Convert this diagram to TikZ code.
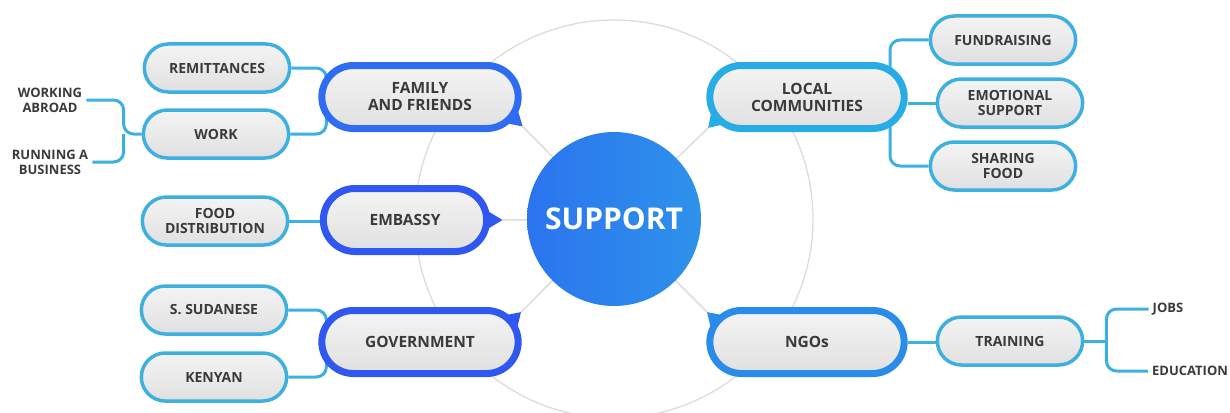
\documentclass[tikz,border=0pt]{standalone}
\usepackage{fontspec}
\setmainfont{Open Sans}
\usetikzlibrary{shapes.misc,calc,backgrounds}
\definecolor{famblue}{HTML}{2E6CF1}
\definecolor{embblue}{HTML}{3057F0}
\definecolor{locblue}{HTML}{28ACE6}
\definecolor{ngoblue}{HTML}{2B8BE8}
\definecolor{skyline}{HTML}{3DB0E0}
\definecolor{paper}{HTML}{F4F4F4}
\definecolor{inset}{HTML}{E0E0E0}
\definecolor{inkgray}{HTML}{3A3A3A}
\definecolor{ringgray}{HTML}{DCDCDC}
\definecolor{supleft}{HTML}{2B74EF}
\definecolor{supright}{HTML}{2E92EA}
\newcommand{\bubbletail}[5]{%
  \fill[#2] ($(#1.center)+(#3,0)+(#4-16:31)$) -- ($(#1.center)+(#3,0)+(#4:#5)$) coordinate (#1-tip)
    -- ($(#1.center)+(#3,0)+(#4+16:31)$) -- cycle;}

\begin{document}
\begin{tikzpicture}[x=1pt,y=-1pt]
  \tikzstyle{every node}=[text=inkgray, align=center]
  \tikzstyle{hub}=[rounded rectangle, top color=paper, middle color=paper, bottom color=inset, line width=7pt, minimum height=63pt, font=\fontsize{15.5}{17}\selectfont\bfseries]
  \tikzstyle{leafbox}=[rounded rectangle, top color=paper, middle color=paper, bottom color=inset, draw=skyline, line width=3.5pt, minimum width=152pt, minimum height=48pt, font=\fontsize{14}{15}\selectfont\bfseries]
  \tikzstyle{leaf}=[inner sep=4pt, font=\fontsize{13}{15}\selectfont\bfseries]
  \tikzstyle{branch}=[draw=skyline, line width=3pt, rounded corners=10pt]
  \tikzstyle{spoke}=[draw=ringgray, line width=1.5pt]
  \useasboundingbox (0,0) rectangle (1230,412);

  \node[circle, minimum size=174pt, left color=supleft, right color=supright, text=white, font=\fontsize{30}{32}\selectfont\bfseries] (sup) at (614,219) {SUPPORT};

  \node[hub, draw=famblue, minimum width=203pt] (fam) at (420,97) {FAMILY\\AND FRIENDS};
  \node[hub, draw=embblue, minimum width=170pt] (emb) at (405,220) {EMBASSY};
  \node[hub, draw=embblue, minimum width=203pt] (gov) at (420,342) {GOVERNMENT};
  \node[hub, draw=locblue, minimum width=201pt] (loc) at (807,97) {LOCAL\\COMMUNITIES};
  \node[hub, draw=ngoblue, minimum width=201pt] (ngo) at (807,342) {NGOs};

  \node[leafbox] (rem) at (217,68) {REMITTANCES};
  \node[leafbox] (work) at (216,134) {WORK};
  \node[leafbox] (food) at (215,221) {FOOD\\DISTRIBUTION};
  \node[leafbox] (ssud) at (214,310) {S. SUDANESE};
  \node[leafbox] (keny) at (214,377) {KENYAN};
  \node[leafbox] (fund) at (1003,40) {FUNDRAISING};
  \node[leafbox] (emo) at (1010,103) {EMOTIONAL\\SUPPORT};
  \node[leafbox] (share) at (1003,166) {SHARING\\FOOD};
  \node[leafbox] (train) at (1010,341) {TRAINING};

  \node[leaf] (abroad) at (50,100) {WORKING\\ABROAD};
  \node[leaf] (business) at (50,162) {RUNNING A\\BUSINESS};
  \node[leaf] (jobs) at (1168,309) {JOBS};
  \node[leaf] (edu) at (1190,371) {EDUCATION};

  \coordinate (wk) at ($(work.west)+(-18,0)$);
  \coordinate (lk) at ($(loc.center)+(83,0)$);
  \coordinate (tk) at ($(train.east)+(22,0)$);

  \begin{scope}[on background layer]
    \begin{scope}
      \clip (0,0) rectangle (1230,412);
      \draw[ringgray, line width=1.3pt] (sup.center) circle (199pt);
    \end{scope}
    \bubbletail{fam}{famblue}{70}{42}{44}
    \bubbletail{emb}{embblue}{53.5}{0}{44}
    \bubbletail{gov}{embblue}{70}{-44}{43}
    \bubbletail{loc}{locblue}{-69}{134}{43}
    \bubbletail{ngo}{ngoblue}{-69}{224}{43}
    \draw[spoke] (sup) -- (fam-tip);
    \draw[spoke] (sup) -- (emb-tip);
    \draw[spoke] (sup) -- (gov-tip);
    \draw[spoke] (sup) -- (loc-tip);
    \draw[spoke] (sup) -- (ngo-tip);

    \draw[branch] (rem.east) -| ($(fam.west)+(8,0)$);
    \draw[branch] (work.east) -| ($(fam.west)+(8,0)$);
    \draw[branch] (food.east) -- (food.east -| emb.west);
    \draw[branch] (ssud.east) -| ($(gov.west)+(8,0)$);
    \draw[branch] (keny.east) -| ($(gov.west)+(8,0)$);
    \draw[branch] (fund.west) -| (lk);
    \draw[branch] (share.west) -| (lk);
    \draw[branch] (emo.west) -- (emo.west -| loc.east);
    \draw[branch] (ngo.east) -- (ngo.east -| train.west);
    \draw[branch] (abroad.east) -| (wk) -- (work.west);
    \draw[branch] (business.east) -| (wk);
    \draw[branch] (train.east) -- (tk);
    \draw[branch] (jobs.west) -| (tk);
    \draw[branch] (edu.west) -| (tk);
  \end{scope}
\end{tikzpicture}
\end{document}
